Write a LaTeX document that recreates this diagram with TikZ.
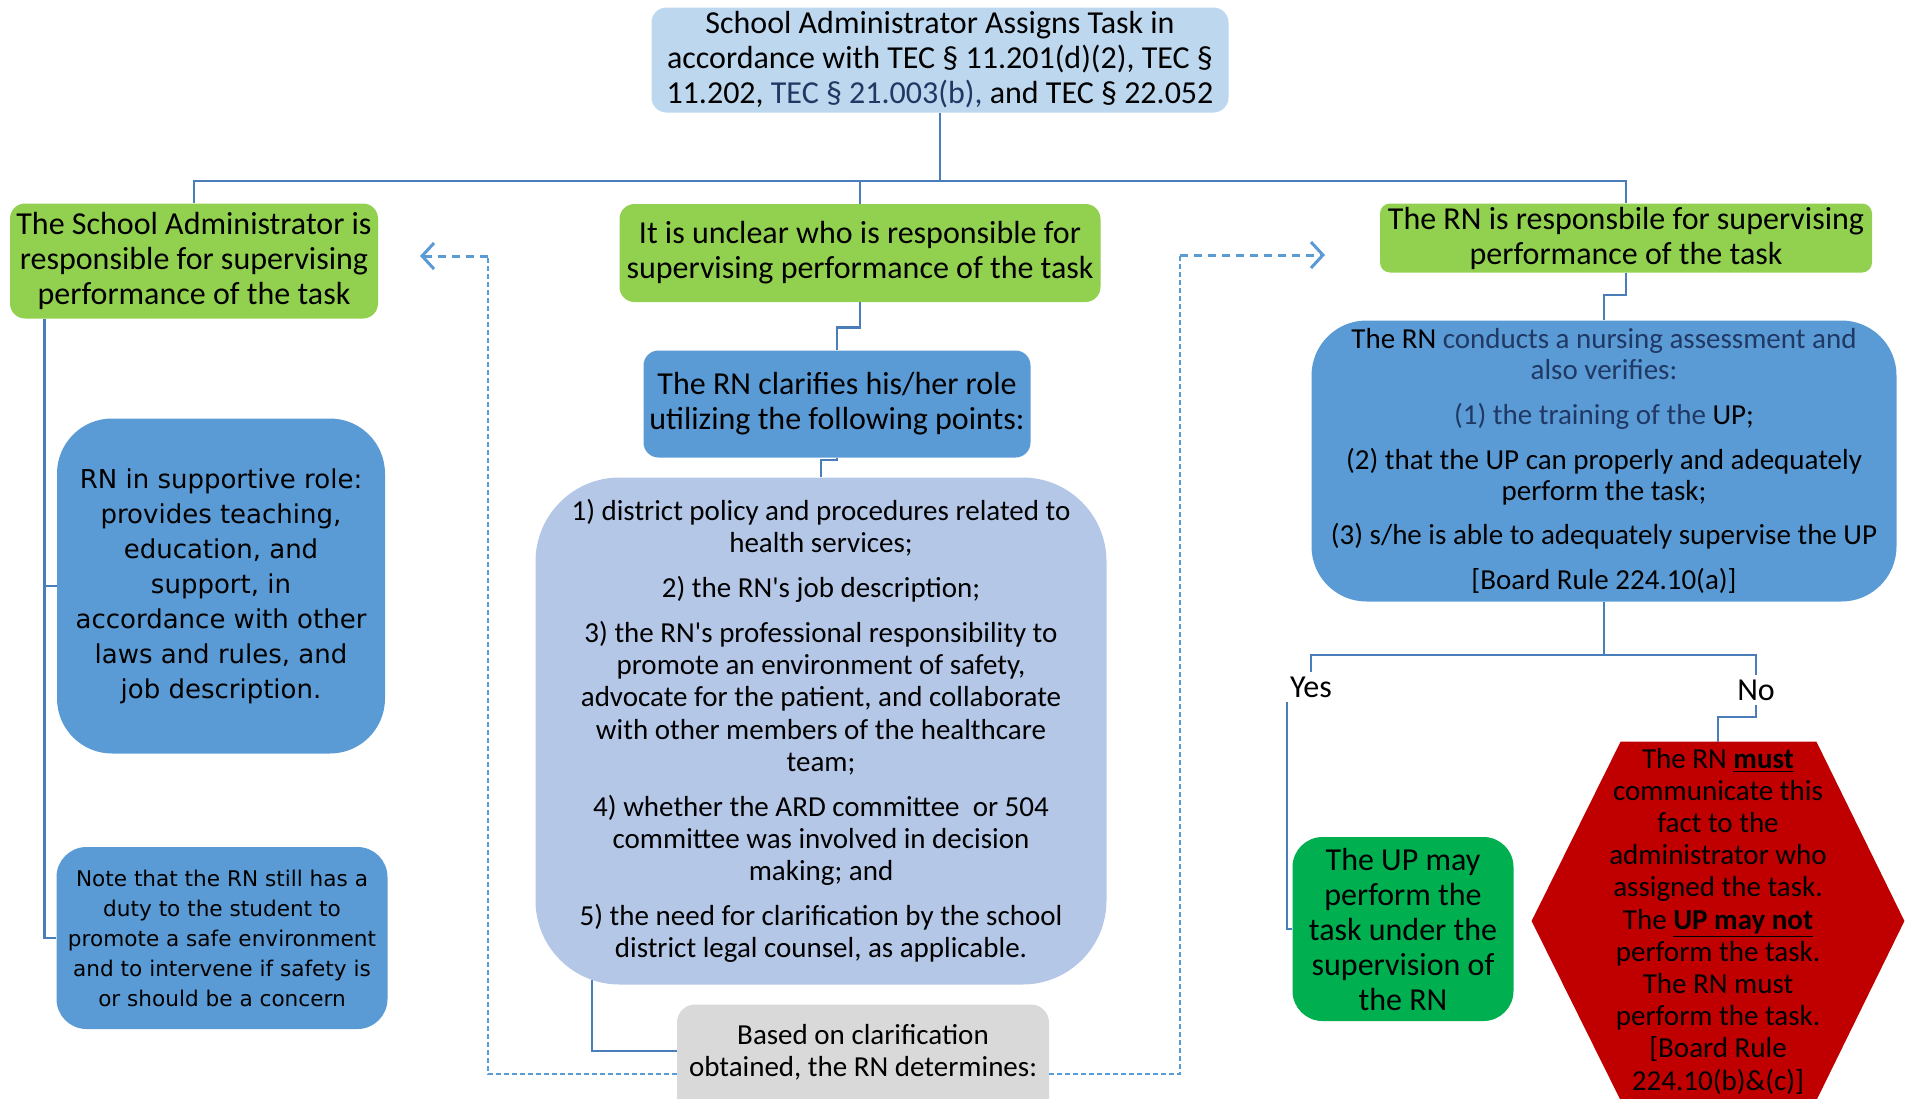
\documentclass[tikz,border=0pt]{standalone}
\usepackage{fontspec}
\setmainfont{Carlito}
\newfontfamily\verdfont{DejaVu Sans}
\usetikzlibrary{arrows.meta,backgrounds}
\definecolor{cTop}{HTML}{BDD7EE}
\definecolor{cGreen}{HTML}{92D050}
\definecolor{cBlue}{HTML}{5B9BD5}
\definecolor{cList}{HTML}{B4C7E7}
\definecolor{cGray}{HTML}{D9D9D9}
\definecolor{cDGreen}{HTML}{00B050}
\definecolor{cRed}{HTML}{C00000}
\definecolor{cNavy}{HTML}{203864}
\definecolor{cConn}{HTML}{4A7EBB}
\definecolor{cDash}{HTML}{5B9BD5}
\begin{document}
\begin{tikzpicture}[x=0.5pt,y=-0.5pt,
  base/.style={inner sep=0pt, align=center, text=black},
  fbig/.style={font=\fontsize{16}{17.5}\selectfont},
  fmid/.style={font=\fontsize{14.5}{16.15}\selectfont},
  conn/.style={draw=cConn, line width=1.2pt},
  dthin/.style={draw=cDash, line width=0.7pt, dash pattern=on 2.5pt off 1.5pt},
  dthick/.style={draw=cDash, line width=1.5pt, dash pattern=on 4pt off 3pt,
     -{Straight Barb[length=6pt,width=13pt,line width=1.5pt]}},
]
\useasboundingbox (0,0) rectangle (1911,1098);

% top
\node[base,fbig,fill=cTop,rounded corners=7.5pt,minimum width=288.5pt,minimum height=52.5pt] (top) at (940,60)
 {School Administrator Assigns Task in\\accordance with TEC § 11.201(d)(2), TEC §\\11.202, \textcolor{cNavy}{TEC § 21.003(b),} and TEC § 22.052};

% green row
\node[base,fbig,fill=cGreen,rounded corners=7.5pt,minimum width=184pt,minimum height=57.5pt] (lg) at (194,261)
 {The School Administrator is\\responsible for supervising\\performance of the task};
\node[base,fbig,fill=cGreen,rounded corners=7.5pt,minimum width=240.5pt,minimum height=49pt] (mg) at (860,253)
 {It is unclear who is responsible for\\supervising performance of the task};
\node[base,fbig,fill=cGreen,rounded corners=5pt,minimum width=246pt,minimum height=34.5pt] (rg) at (1626,238)
 {The RN is responsbile for supervising\\performance of the task};

% left column
\node[base,font=\verdfont\fontsize{13}{17.5}\selectfont,fill=cBlue,rounded corners=27.5pt,minimum width=164pt,minimum height=167.5pt] (lb1) at (221,586)
 {RN in supportive role:\\provides teaching,\\education, and\\support, in\\accordance with other\\laws and rules, and\\job description.};
\node[base,font=\verdfont\fontsize{10.8}{15}\selectfont,fill=cBlue,rounded corners=15pt,minimum width=165.5pt,minimum height=91pt] (lb2) at (222,938)
 {Note that the RN still has a\\duty to the student to\\promote a safe environment\\and to intervene if safety is\\or should be a concern};

% middle column
\node[base,fbig,fill=cBlue,rounded corners=7.5pt,minimum width=193.5pt,minimum height=53.5pt] (clar) at (837,404)
 {The RN clarifies his/her role\\utilizing the following points:};
\node[base,fmid,fill=cList,rounded corners=42pt,minimum width=285.5pt,minimum height=253.5pt] (list) at (821,731)
 {1) district policy and procedures related to\\health services;\\[6.2pt]
  2) the RN\textquotesingle s job description;\\[6.2pt]
  3) the RN\textquotesingle s professional responsibility to\\promote an environment of safety,\\advocate for the patient, and collaborate\\with other members of the healthcare\\team;\\[6.2pt]
  4) whether the ARD committee\ \ or 504\\committee was involved in decision\\making; and\\[6.2pt]
  5) the need for clarification by the school\\district legal counsel, as applicable.};
\node[base,fill=cGray,rounded corners=9pt,minimum width=186pt,minimum height=62.5pt] (gray) at (863,1067) {};
\node[base,fmid] (graytxt) at (863,1052) {Based on clarification\\obtained, the RN determines:};

% right column
\node[base,font=\fontsize{14.5}{15.5}\selectfont,fill=cBlue,rounded corners=27.5pt,minimum width=292.5pt,minimum height=140.5pt] (cond) at (1604,461)
 {The RN \textcolor{cNavy}{conducts a nursing assessment and}\\\textcolor{cNavy}{also verifies:}\\[6.9pt]
  \textcolor{cNavy}{(1) the training of the} UP;\\[6.9pt]
  (2) that the UP can properly and adequately\\perform the task;\\[6.9pt]
  (3) s/he is able to adequately supervise the UP\\[6.9pt]
  [Board Rule 224.10(a)]};
\node[base,fbig,inner sep=2pt] (yes) at (1311,687) {Yes};
\node[base,fbig,inner sep=2pt] (no) at (1756,690) {No};
\node[base,fbig,fill=cDGreen,rounded corners=15pt,minimum width=110.5pt,minimum height=92pt] (up) at (1403,929)
 {The UP may\\perform the\\task under the\\supervision of\\the RN};
\node[base,font=\fontsize{14.5}{16.1}\selectfont,minimum width=186pt,minimum height=179pt] (hex) at (1718,921)
 {The RN \underline{\textbf{must}}\\communicate this\\fact to the\\administrator who\\assigned the task.\\The \underline{\textbf{UP may not}}\\perform the task.\\The RN must\\perform the task.\\{[}Board Rule\\224.10(b)\&(c)]};
\begin{scope}[on background layer]
\fill[cRed] ([xshift=44.5pt]hex.north west) -- ([xshift=-44pt]hex.north east) -- (hex.east)
  -- ([xshift=-44pt]hex.south east) -- ([xshift=44.5pt]hex.south west) -- (hex.west) -- cycle;
\end{scope}

% solid connectors
\coordinate (bus) at (940,181);
\draw[conn] (top.south) -- (bus) -| (lg.north);
\draw[conn] (bus) -| (mg.north);
\draw[conn] (bus) -| (rg.north);
\draw[conn] ([xshift=17.5pt]lg.south west) |- (lb1.west);
\draw[conn] ([xshift=17.5pt]lg.south west) |- (lb2.west);
\draw[conn] (mg.south) -- ++(0,25) -| (clar.north);
\draw[conn] (clar.south) -- ++(0,2) -| (list.north);
\draw[conn] ([xshift=-114.5pt,yshift=2.5pt]list.south) |- ([yshift=8pt]gray.west);
\draw[conn] (rg.south) -- ++(0,22) -| (cond.north);
\draw[conn] (cond.south) -- ++(0,53) coordinate (yn) -| (yes.north);
\draw[conn] (yn) -| (no.north);
\draw[conn] ([xshift=-12pt]yes.south) |- (up.west);
\draw[conn] (no.south) -- ++(0,12) -| (hex.north);

% dashed connectors
\coordinate (larrow) at (420,256);
\coordinate (rarrow) at (1325,255);
\draw[dthin] ([yshift=-3.5pt]gray.west) -| ([xshift=34pt]larrow);
\draw[dthick] ([xshift=34pt]larrow) -- (larrow);
\draw[dthin] ([yshift=-3.5pt]gray.east) -| ([xshift=-72.5pt]rarrow);
\draw[dthick] ([xshift=-72.5pt]rarrow) -- (rarrow);
\end{tikzpicture}
\end{document}
